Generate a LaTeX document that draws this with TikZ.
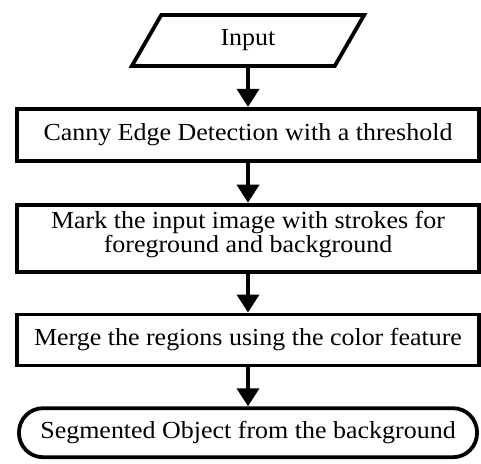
\documentclass[tikz,border=0pt]{standalone}
\usepackage{fontspec}
\setmainfont[FakeStretch=1.06]{Liberation Serif}
\usetikzlibrary{arrows.meta,positioning,shapes.geometric}

\begin{document}
\begin{tikzpicture}[
    x=1pt, y=1pt,
    node distance=39pt,
    font=\fontsize{24.5}{21}\selectfont,
    line width=3.8pt,
    box/.style={
        draw,
        align=center,
        minimum width=462pt,
        minimum height=52pt,
        inner sep=2pt
    },
    io/.style={
        draw,
        trapezium,
        trapezium left angle=60,
        trapezium right angle=120,
        minimum height=51pt,
        text width=95pt,
        align=center,
        inner xsep=0pt
    },
    term/.style={
        draw,
        rounded corners=24pt,
        minimum width=458pt,
        minimum height=49pt
    },
    arr/.style={
        -{Triangle[width=22pt,length=18pt]}
    }
]

\useasboundingbox (0,0) rectangle (481,-463);

\node[io] (input) at (248,-40.5) {Input};

\node[box,below=of input] (canny)
{Canny Edge Detection with a threshold};

\node[box,below=40pt of canny,minimum height=67pt] (mark)
{Mark the input image with strokes for\\
foreground and background\\[-8pt] \mbox{}};

\node[box,below=of mark,minimum height=51pt] (merge)
{Merge the regions using the color feature};

\node[term,below=of merge] (seg)
{Segmented Object from the background};

\draw[arr] (input)--(canny);
\draw[arr] (canny)--(mark);
\draw[arr] (mark)--(merge);
\draw[arr] (merge)--(seg);

\end{tikzpicture}
\end{document}
